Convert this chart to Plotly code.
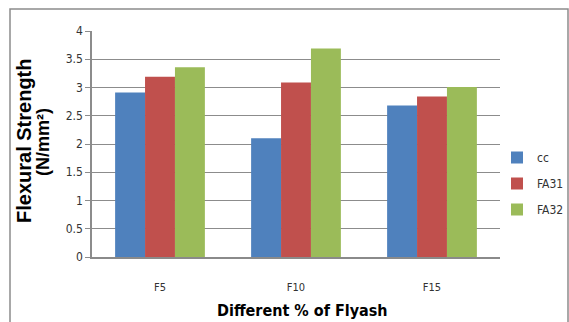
import plotly.graph_objects as go

categories = ["F5", "F10", "F15"]
series_names = ["cc", "FA31", "FA32"]
cc_vals = [2.91, 2.10, 2.68]
fa31_vals = [3.19, 3.09, 2.84]
fa32_vals = [3.36, 3.69, 3.01]
y_ticks = [0, 0.5, 1, 1.5, 2, 2.5, 3, 3.5, 4]
y_tick_labels = ["0", "0.5", "1", "1.5", "2", "2.5", "3", "3.5", "4"]

colors = ["#4f81bd", "#c0504d", "#9bbb59"]
values = [cc_vals, fa31_vals, fa32_vals]

fig = go.Figure()
for name, vals, col in zip(series_names, values, colors):
    fig.add_trace(go.Bar(
        x=categories, y=vals, name=name, legendgroup=name,
        marker=dict(color=col, line=dict(width=0)),
    ))

L, R, T, B = 92, 69, 31, 65
W, H = 569, 322
pw, ph = W - L - R, H - T - B

def px(xp):
    return (xp - L) / pw

def py(yp):
    return (H - B - yp) / ph

cond = "DejaVu Sans Condensed, Liberation Sans Narrow, Arial"
tick_font = dict(family=cond, size=12, color="#333333")

fig.update_layout(
    width=W, height=H,
    margin=dict(l=L, r=R, t=T, b=B, autoexpand=False),
    paper_bgcolor="white", plot_bgcolor="white",
    barmode="group", bargap=0.34, bargroupgap=0,
    xaxis=dict(
        showgrid=False, showline=True, linecolor="#8a8a8a", linewidth=2,
        ticks="", tickfont=dict(family=cond, size=11, color="#333333"),
        ticklabelstandoff=19,
    ),
    yaxis=dict(
        range=[0, 4], tickvals=y_ticks, ticktext=y_tick_labels,
        showgrid=True, gridcolor="#8c8c8c", gridwidth=1,
        showline=True, linecolor="#8c8c8c", linewidth=1.5,
        ticks="outside", ticklen=5, tickcolor="#8c8c8c",
        tickfont=tick_font, zeroline=False,
    ),
    legend=dict(
        x=px(497), y=py(143), xanchor="left", yanchor="top",
        font=dict(family=cond, size=12, color="#333333"),
        tracegroupgap=7, itemwidth=30, bgcolor="rgba(0,0,0,0)",
    ),
    annotations=[
        dict(text="<b>Different % of Flyash</b>", xref="paper", yref="paper",
             x=px(302), y=py(310), xanchor="center", yanchor="middle", showarrow=False,
             font=dict(family=cond, size=16, color="black")),
        dict(text="<b>Flexural Strength</b>", xref="paper", yref="paper",
             x=px(24), y=py(141), xanchor="center", yanchor="middle", showarrow=False,
             textangle=-90, font=dict(family="Liberation Sans, Arial", size=20, color="black")),
        dict(text="<b>(N/mm²)</b>", xref="paper", yref="paper",
             x=px(43), y=py(142), xanchor="center", yanchor="middle", showarrow=False,
             textangle=-90, font=dict(family="Liberation Sans, Arial", size=18, color="black")),
    ],
    shapes=[dict(
        type="rect", xref="paper", yref="paper",
        x0=px(10), x1=px(568), y0=py(335), y1=py(9),
        line=dict(color="#8c8c8c", width=1.5), fillcolor="rgba(0,0,0,0)", layer="below",
    )],
)

fig.write_html("out.html")
